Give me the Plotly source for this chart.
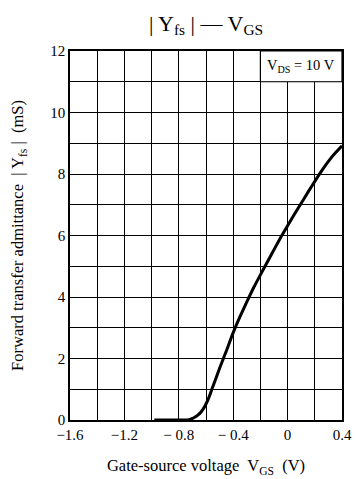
import plotly.graph_objects as go

vgs = [-0.98, -0.9, -0.8, -0.74, -0.72, -0.70, -0.68, -0.66, -0.64, -0.62, -0.60, -0.58, -0.55, -0.50, -0.45,
       -0.40, -0.35, -0.30, -0.25, -0.20, -0.15, -0.10, -0.05, 0.00, 0.05, 0.10, 0.15, 0.20, 0.25, 0.30, 0.35, 0.40]
yfs = [0, 0, 0, 0, 0.02, 0.05, 0.10, 0.16, 0.24, 0.36, 0.52, 0.72, 1.08, 1.68, 2.25,
       2.84, 3.36, 3.84, 4.30, 4.72, 5.13, 5.54, 5.94, 6.32, 6.69, 7.05, 7.41, 7.76, 8.10, 8.41, 8.68, 8.92]

x_tickvals = [-1.6, -1.4, -1.2, -1.0, -0.8, -0.6, -0.4, -0.2, 0.0, 0.2, 0.4]
x_ticktext = ["\u22121.6", "", "\u22121.2", "", "\u2212 0.8", "", "\u2212 0.4", "", "0", "", "0.4"]
y_tickvals = list(range(0, 13))
y_ticktext = [str(v) if v % 2 == 0 else "" for v in y_tickvals]

font_family = "Liberation Serif, Times New Roman, serif"

fig = go.Figure()
fig.add_trace(go.Scatter(x=vgs, y=yfs, mode="lines", line=dict(color="black", width=3, shape="spline", smoothing=0.6),
                         showlegend=False, hoverinfo="skip"))

fig.update_layout(
    width=356, height=479,
    margin=dict(l=70, r=14, t=51, b=59, autoexpand=False),
    paper_bgcolor="white", plot_bgcolor="white",
    font=dict(family=font_family, color="black", size=14),
    title=dict(text="| Y<sub>fs</sub> | \u2014 V<sub>GS</sub>", x=206/356, xanchor="center", y=1 - 23/479, yanchor="middle",
               font=dict(size=22, family=font_family, color="black")),
    xaxis=dict(range=[-1.6, 0.4], tickvals=x_tickvals, ticktext=x_ticktext, showgrid=True, gridcolor="black", gridwidth=1,
               showline=True, linecolor="black", linewidth=1.5, mirror=True, zeroline=False, ticks="", ticklen=0,
               automargin=False, tickfont=dict(size=15),
               title=dict(text="Gate-source voltage  V<sub>GS</sub>  (V)", font=dict(size=16.5), standoff=18)),
    yaxis=dict(range=[0, 12], tickvals=y_tickvals, ticktext=y_ticktext, showgrid=True, gridcolor="black", gridwidth=1,
               showline=True, linecolor="black", linewidth=1.5, mirror=True, zeroline=False, ticks="", ticklen=0,
               automargin=False, tickfont=dict(size=15),
               title=dict(text="Forward transfer admittance  | Y<sub>fs</sub> |  (mS)", font=dict(size=16.5), standoff=22)),
)

fig.add_shape(type="rect", xref="x", yref="y", x0=-0.2, x1=0.4, y0=11, y1=12,
              fillcolor="white", line=dict(color="black", width=1.2), layer="above")
fig.add_annotation(x=0.1, y=11.5, xref="x", yref="y", text="V<sub>DS</sub> = 10 V", showarrow=False,
                   font=dict(size=14.5, family=font_family, color="black"))

fig.write_html("out.html")
